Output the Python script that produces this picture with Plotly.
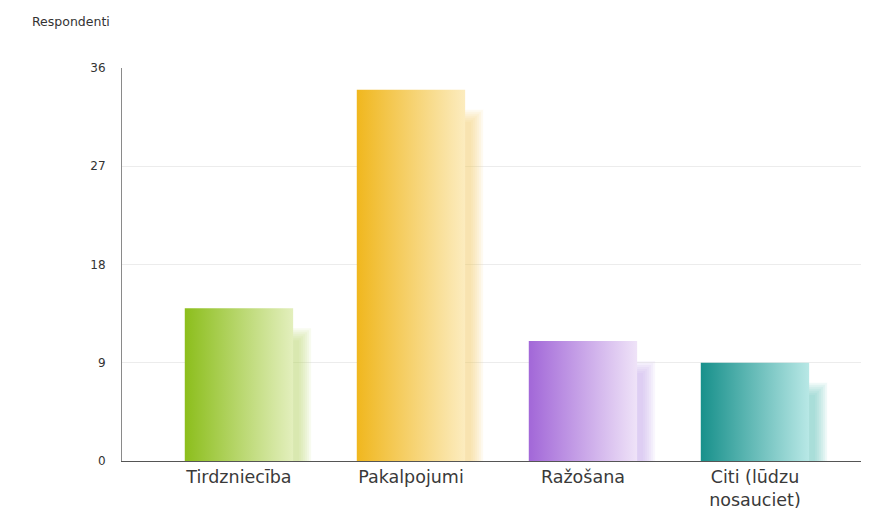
import plotly.graph_objects as go

# data
categories = ["Tirdzniecība", "Pakalpojumi", "Ražošana", "Citi (lūdzu<br>nosauciet)"]
values = [14, 34, 11, 9]
y_ticks = [0, 9, 18, 27, 36]

# gradient colours per bar (left -> right)
colors_left = ["#8cbe1c", "#f0b71e", "#a267d8", "#17908b"]
colors_right = ["#e3efbd", "#fcecbf", "#efe3f8", "#b8e8e6"]
shadow_colors = ["#b9d86a", "#f3cf6a", "#c9a6ea", "#5fc0bc"]

bar_w = 0.63
px_x = 1 / 172.0       # one pixel in x data units
px_y = 36 / 393.0      # one pixel in y data units

# page body has an 8px margin, so the plot area is laid out relative to that
plot_w = 747
plot_h = 393

fig = go.Figure()

for i, v in enumerate(values):
    x0 = i - bar_w / 2
    x1 = i + bar_w / 2
    # soft shadow, offset down/right: stacked faint rectangles that
    # shrink towards the centre, giving a blurred edge
    for k in range(-12, 2, 2):
        sx0 = x0 + 18 * px_x
        sx1 = x1 + (18 + k) * px_x
        sy1 = v - (20 - k) * px_y
        fig.add_trace(go.Scatter(
            x=[sx0, sx1, sx1, sx0, sx0],
            y=[0, 0, sy1, sy1, 0],
            mode="lines", fill="toself", line=dict(width=0),
            fillcolor=shadow_colors[i], opacity=0.1,
            hoverinfo="skip", showlegend=False,
        ))
    # the bar with horizontal gradient
    fig.add_trace(go.Scatter(
        x=[x0, x1, x1, x0, x0],
        y=[0, 0, v, v, 0],
        mode="lines", fill="toself", line=dict(width=0),
        fillgradient=dict(type="horizontal",
                          colorscale=[[0, colors_left[i]], [1, colors_right[i]]]),
        name=categories[i].replace("<br>", " "), hovertemplate="%{y}",
        showlegend=False,
    ))

fig.update_layout(
    width=861, height=507,
    margin=dict(l=114, r=0, t=60, b=54),
    plot_bgcolor="white", paper_bgcolor="white",
    font=dict(family="DejaVu Sans", color="#333333", size=12),
    xaxis=dict(
        range=[-0.68, 3.663],
        tickvals=list(range(len(categories))),
        ticktext=categories,
        showgrid=False, zeroline=False,
        showline=True, linecolor="#555555", linewidth=1,
        ticks="", tickfont=dict(size=17.5, color="#3a3a3a"),
        fixedrange=True,
    ),
    yaxis=dict(
        range=[0, 36],
        tickvals=y_ticks,
        showgrid=True, gridcolor="#ececec", gridwidth=1,
        zeroline=False,
        showline=True, linecolor="#8a8a8a", linewidth=1,
        ticks="", ticklabelstandoff=13,
        tickfont=dict(size=12, color="#333333"),
        fixedrange=True,
    ),
    annotations=[dict(
        text="Respondenti", xref="paper", yref="paper",
        x=-92 / plot_w, y=1 + 46 / plot_h, xanchor="left", yanchor="middle",
        showarrow=False, font=dict(size=12.5, color="#333333"),
    )],
)

fig.write_html("out.html")
